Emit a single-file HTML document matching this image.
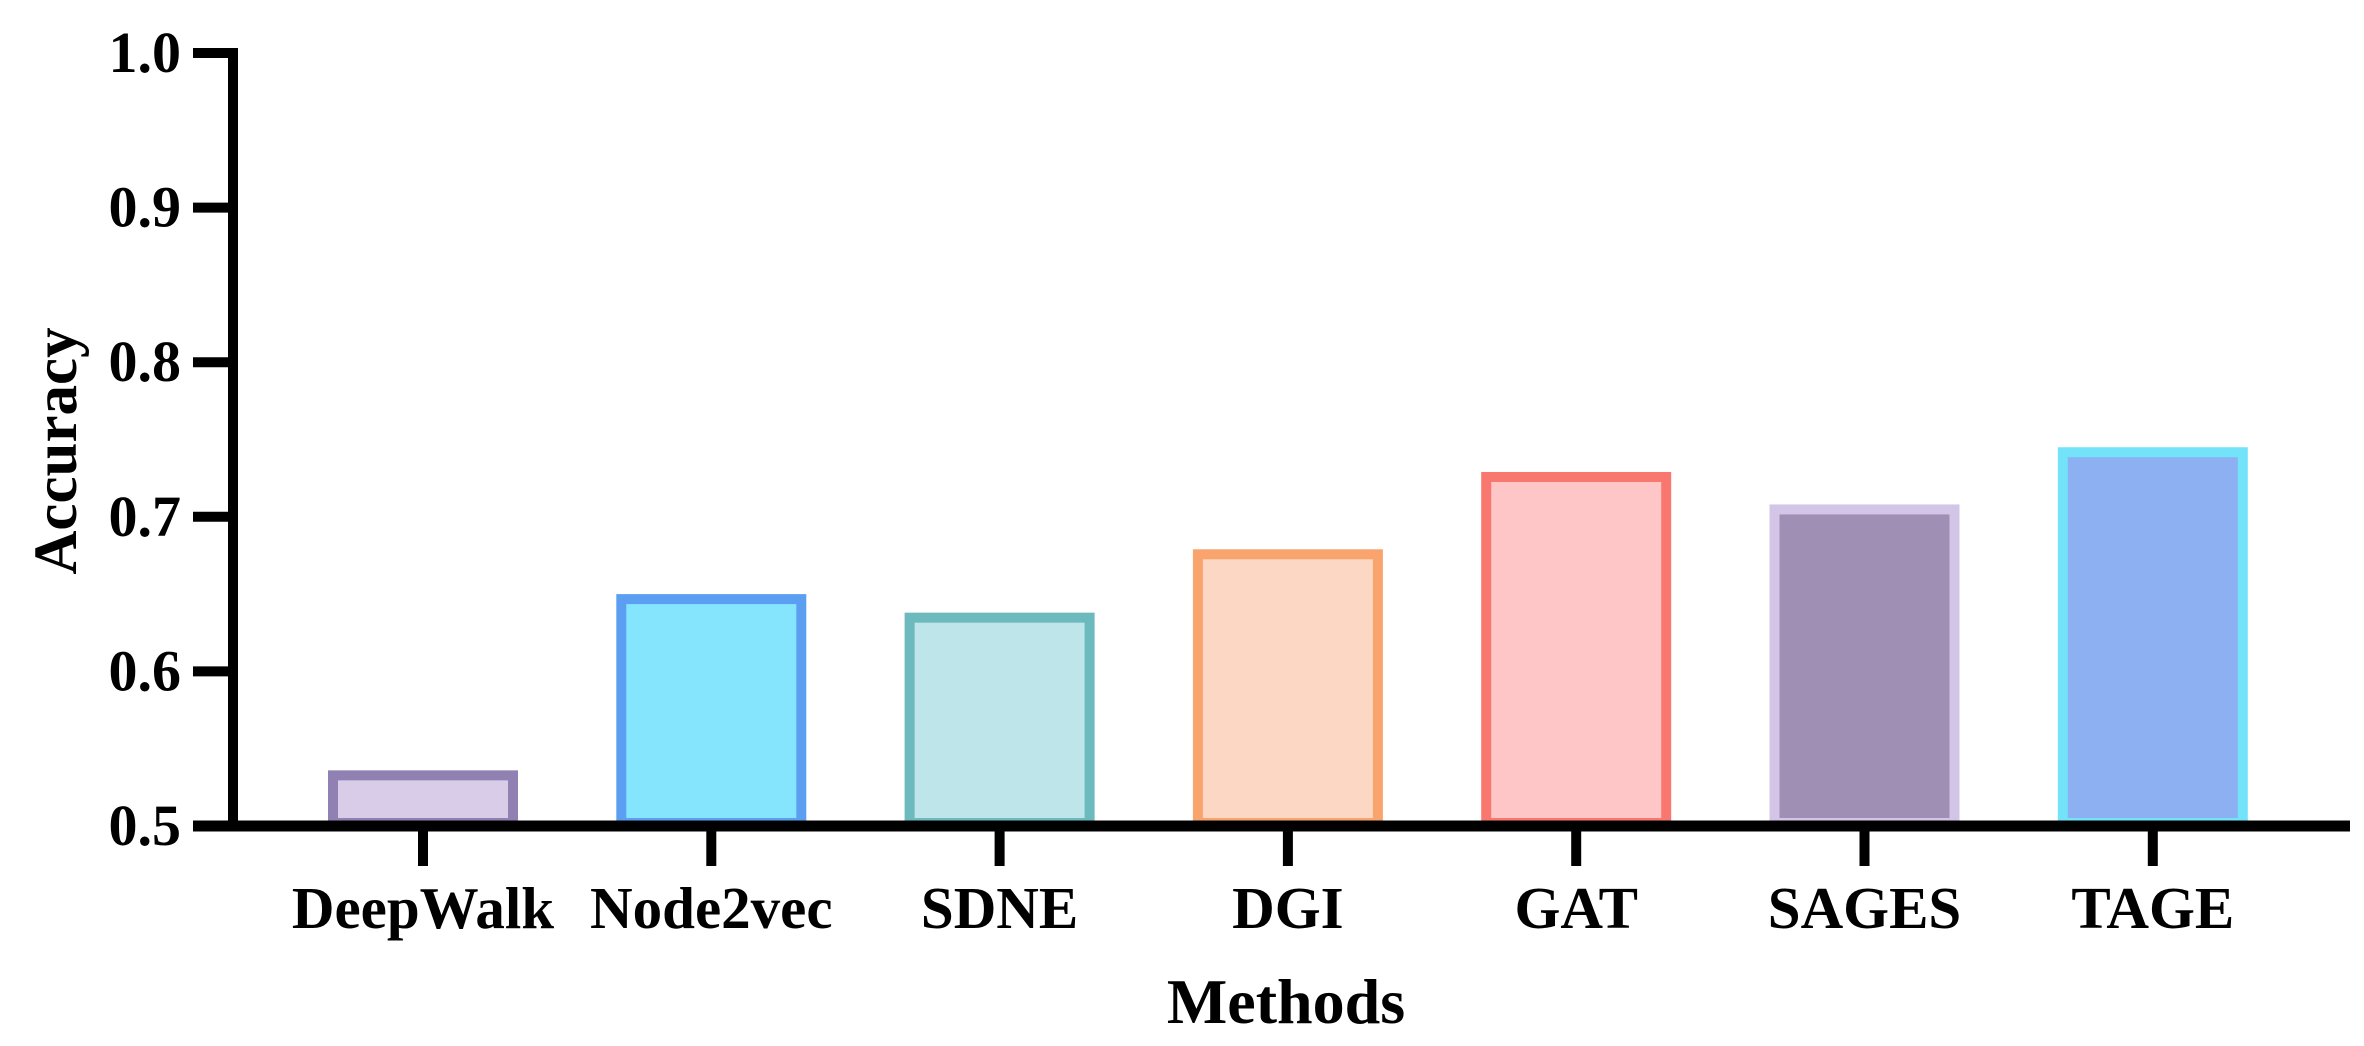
<!DOCTYPE html>
<html><head><meta charset="utf-8"><style>
html,body{margin:0;padding:0;background:#fff;}
svg{display:block;}
text{font-family:"Liberation Serif",serif;font-weight:bold;fill:#000;}
</style></head><body>
<svg id="chart" width="2364" height="1046" viewBox="0 0 2364 1046" xmlns="http://www.w3.org/2000/svg">
<g id="bars"></g>
<g id="axes"></g>
<text transform="translate(76,451) rotate(-90)" text-anchor="middle" font-size="61">Accuracy</text>
<text x="1286" y="1023" text-anchor="middle" font-size="64">Methods</text>
</svg>
<script>
const categories = ["DeepWalk","Node2vec","SDNE","DGI","GAT","SAGES","TAGE"];
const values = [0.536, 0.650, 0.638, 0.679, 0.729, 0.708, 0.745];
const fills = ["#d8cce9","#84e5fc","#bee5ea","#fbd7c4","#fec6c6","#a08fb4","#8cb0f2"];
const strokes = ["#9181b2","#5c9ff2","#6cb9be","#f9a36d","#f8786f","#d3c5e6","#72e3f8"];
const yTicks = [0.5,0.6,0.7,0.8,0.9,1.0];
const yTickLabels = ["0.5","0.6","0.7","0.8","0.9","1.0"];

const NS="http://www.w3.org/2000/svg";
const x0=233, xEnd=2350, yTop=53, yBot=826, yMin=0.5, yMax=1.0;
const firstC=423, step=288.3, barW=190;
function yScale(v){return yBot-(v-yMin)/(yMax-yMin)*(yBot-yTop);}
function xScale(i){return firstC+i*step;}
function mk(tag,attrs,parent){const e=document.createElementNS(NS,tag);for(const k in attrs)e.setAttribute(k,attrs[k]);parent.appendChild(e);return e;}
const bars=document.getElementById('bars'), axes=document.getElementById('axes');
categories.forEach((c,i)=>{
  const cx=xScale(i), yt=yScale(values[i]);
  const r=mk('rect',{x:cx-barW/2+5,y:yt+5,width:barW-10,height:Math.max(0,yBot-yt-8),fill:fills[i],stroke:strokes[i],'stroke-width':10},bars);
  
  
  const t=mk('line',{x1:cx,x2:cx,y1:yBot,y2:866,stroke:'#000','stroke-width':10},axes);
  
  
  const l=mk('text',{x:cx,y:928,'text-anchor':'middle','font-size':59},axes);
  l.textContent=c;
  
  
});
yTicks.forEach((v,i)=>{
  const y=yScale(v);
  const t=mk('line',{x1:193,x2:x0,y1:y,y2:y,stroke:'#000','stroke-width':10},axes);
  
  
  const l=mk('text',{x:181,y:y+19,'text-anchor':'end','font-size':58},axes);
  l.textContent=yTickLabels[i];
  
  
});
const ya=mk('line',{x1:x0,x2:x0,y1:yTop-5,y2:yBot+5,stroke:'#000','stroke-width':10},axes);


const xa=mk('line',{x1:193,x2:xEnd,y1:yBot,y2:yBot,stroke:'#000','stroke-width':11},axes);


</script>
</body></html>
